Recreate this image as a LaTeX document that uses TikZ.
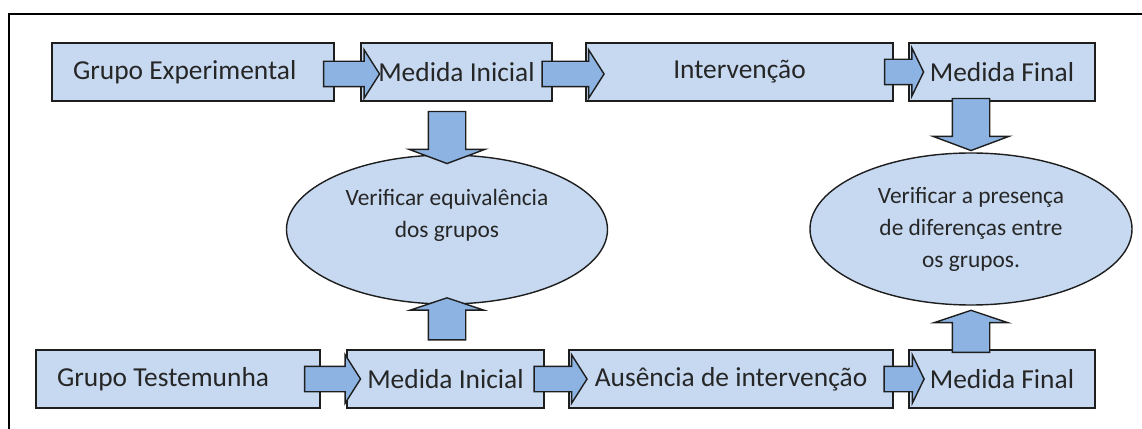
\documentclass[tikz,border=0pt]{standalone}
\usepackage{fontspec}
\setmainfont{Carlito}
\usepackage{tikz}
\usetikzlibrary{shapes.geometric,shapes.arrows,calc}

\definecolor{boxfill}{HTML}{C6D9F1}
\definecolor{arrowfill}{HTML}{8DB3E2}
\definecolor{edge}{HTML}{1E1E1E}
\definecolor{ink}{HTML}{262626}

\tikzset{
  stagebox/.style={draw=edge, fill=boxfill, line width=0.9pt, minimum height=1.16cm,
    inner xsep=0.2cm, inner ysep=0pt, align=center, text=ink,
    font=\fontsize{15.6}{18}\selectfont},
  checkoval/.style={ellipse, draw=edge, fill=boxfill, line width=0.8pt, inner sep=0pt,
    align=center, text=ink, font=\fontsize{13.3}{18.2}\selectfont},
  flowarrow/.style={single arrow, draw=edge, fill=arrowfill, line width=0.8pt,
    inner xsep=0pt, inner ysep=0.24cm, single arrow head extend=0.23cm,
    single arrow tip angle=115},
  downarrow/.style={single arrow, draw=edge, fill=arrowfill, line width=0.8pt,
    inner xsep=0pt, inner ysep=0.36cm, minimum height=1.04cm,
    single arrow head extend=0.38cm, single arrow tip angle=139, rotate=-90},
  uparrow/.style={single arrow, draw=edge, fill=arrowfill, line width=0.8pt,
    inner xsep=0pt, inner ysep=0.36cm, minimum height=0.84cm,
    single arrow head extend=0.36cm, single arrow tip angle=143, rotate=90}
}

\begin{document}
\begin{tikzpicture}
			\useasboundingbox (0,0) rectangle (22.84,-8.58);
			\clip (0,0) rectangle (22.84,-8.58);
			
			% Frame
			\draw[line width=1.4pt] (0.18,-0.28) rectangle (23.5,-9.5);
			
			% Experimental group
			\node[stagebox, text width=4.8cm, align=flush left, inner xsep=0.42cm] (ge) at (3.86,-1.44) {Grupo Experimental};
			\node[stagebox, minimum width=3.82cm] (mi1) at (9.13,-1.44) {Medida Inicial};
			\node[stagebox, minimum width=6.14cm] (int) at (14.79,-1.44) {Intervenção};
			\node[stagebox, minimum width=3.72cm] (mf1) at (20.04,-1.44) {Medida Final};
			
			% Control group
			\node[stagebox, text width=4.84cm, align=flush left, inner xsep=0.42cm] (gt) at (3.56,-7.58) {Grupo Testemunha};
			\node[stagebox, minimum width=3.94cm] (mi2) at (8.91,-7.58) {Medida Inicial};
			\node[stagebox, minimum width=6.48cm] (aus) at (14.62,-7.58) {Ausência de intervenção};
			\node[stagebox, minimum width=3.72cm] (mf2) at (20.04,-7.58) {Medida Final};
			
			% Comparisons
			\node[checkoval, minimum width=6.42cm, minimum height=2.98cm] (e1) at (8.94,-4.59) {Verificar equivalência\\dos grupos\\~};
			\node[checkoval, minimum width=6.44cm, minimum height=3.04cm] (e2) at (19.42,-4.58) {Verificar a presença\\de diferenças entre\\os grupos.};
			
			% Arrows along the rows
			\node[flowarrow, minimum height=1.12cm, yshift=-0.04cm] (a1) at ($(ge.east)!.5!(mi1.west)$) {};
			\node[flowarrow, minimum height=1.24cm, yshift=-0.04cm] (a2) at ($(mi1.east)!.5!(int.west)$) {};
			\node[flowarrow, minimum height=0.78cm, single arrow tip angle=128] (a3) at ($(int.east)!.5!(mf1.west)$) {};
			\node[flowarrow, minimum height=1.12cm, xshift=-0.1cm] (a4) at ($(gt.east)!.5!(mi2.west)$) {};
			\node[flowarrow, minimum height=1.06cm] (a5) at ($(mi2.east)!.5!(aus.west)$) {};
			\node[flowarrow, minimum height=0.8cm, single arrow tip angle=128] (a6) at ($(aus.east)!.5!(mf2.west)$) {};
			
			% Arrows into the comparisons
			\node[downarrow, xshift=0.12cm] (d1) at ($(e1.north)!.5!(e1.north |- mi1.south)$) {};
			\node[downarrow, xshift=-0.12cm] (d2) at ($(e2.north)!.5!(e2.north |- mf1.south)$) {};
			\node[uparrow, xshift=0.1cm] (u1) at ($(e1.south)!.5!(e1.south |- mi2.north)$) {};
			\node[uparrow, xshift=-0.14cm] (u2) at ($(e2.south)!.5!(e2.south |- mf2.north)$) {};
		\end{tikzpicture}
\end{document}
